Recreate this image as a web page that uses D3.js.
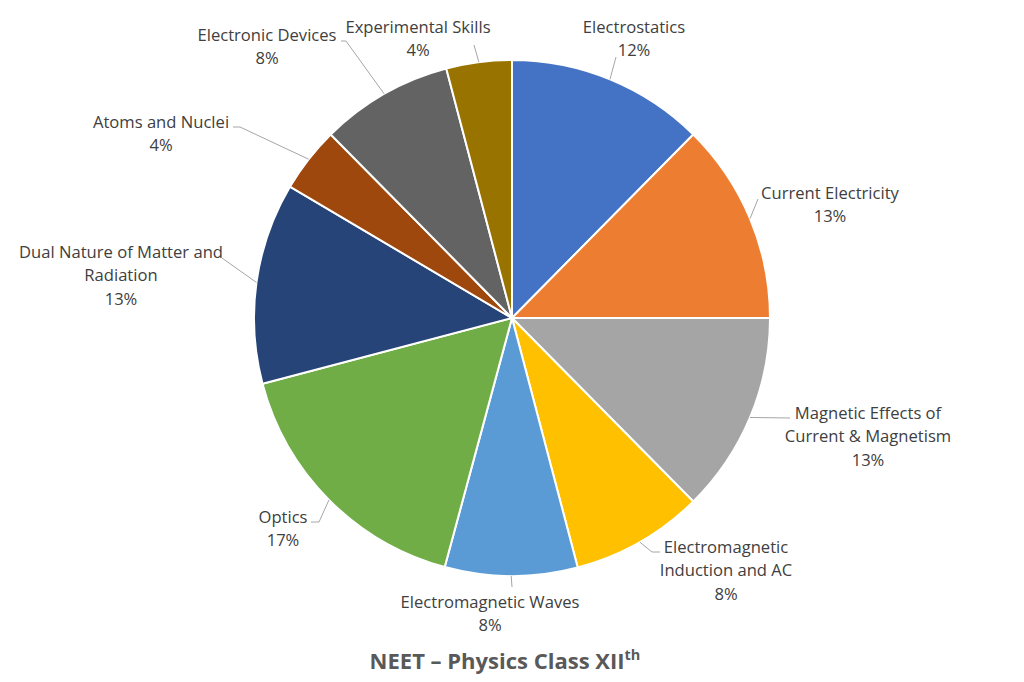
<!DOCTYPE html>
<html>
<head>
<meta charset="utf-8">
<script src="https://cdn.jsdelivr.net/npm/d3@7/dist/d3.min.js"></script>
<style>
  html, body { margin: 0; padding: 0; background: #ffffff; }
  svg { display: block; }
</style>
</head>
<body>
<svg id="chart" width="1024" height="682"></svg>
<script>
// ---- data ----
const categories = [
  "Electrostatics",
  "Current Electricity",
  "Magnetic Effects of Current & Magnetism",
  "Electromagnetic Induction and AC",
  "Electromagnetic Waves",
  "Optics",
  "Dual Nature of Matter and Radiation",
  "Atoms and Nuclei",
  "Electronic Devices",
  "Experimental Skills"
];
const values = [12.4, 12.6, 12.6, 8.3, 8.3, 16.7, 12.6, 4.1, 8.3, 4.1];
const labelLines = [
  ["Electrostatics"],
  ["Current Electricity"],
  ["Magnetic Effects of", "Current & Magnetism"],
  ["Electromagnetic", "Induction and AC"],
  ["Electromagnetic Waves"],
  ["Optics"],
  ["Dual Nature of Matter and", "Radiation"],
  ["Atoms and Nuclei"],
  ["Electronic Devices"],
  ["Experimental Skills"]
];
const colors = ["#4472C4", "#ED7D31", "#A5A5A5", "#FFC000", "#5B9BD5",
                "#70AD47", "#264478", "#9E480E", "#636363", "#997300"];
const titleMain = "NEET – Physics Class XII";
const titleSup = "th";

// ---- layout (label placement) ----
const cx = 512, cy = 318, R = 258;
const lineH = 23.5;
const labelLayout = [
  { x: 634, y: 27,  leader: [[616, 57]] },
  { x: 830, y: 193, leader: [[758, 199]] },
  { x: 868, y: 413, leader: [[790, 418]] },
  { x: 726, y: 547, leader: [[652, 552], [660, 552]] },
  { x: 490, y: 602, leader: [[512, 587]] },
  { x: 283, y: 517, leader: [[319, 522], [311, 522]] },
  { x: 121, y: 252, leader: [[222, 258]] },
  { x: 161, y: 122, leader: [[240, 127], [233, 127]] },
  { x: 267, y: 35,  leader: [[346, 41], [341, 41]] },
  { x: 418, y: 27,  leader: [[474, 45]] }
];

const svg = d3.select("#chart");
const g = svg.append("g").attr("transform", `translate(${cx},${cy})`);

const pie = d3.pie().value(d => d).sort(null);
const arcs = pie(values);
const arc = d3.arc().innerRadius(0).outerRadius(R);

g.selectAll("path.slice")
  .data(arcs)
  .join("path")
  .attr("class", "slice")
  .attr("d", arc)
  .attr("fill", (d, i) => colors[i])
  .attr("stroke", "#ffffff")
  .attr("stroke-width", 2)
  .attr("stroke-linejoin", "round");

// leader lines
const total = d3.sum(values);
arcs.forEach((a, i) => {
  const mid = (a.startAngle + a.endAngle) / 2;
  const ex = cx + R * Math.sin(mid);
  const ey = cy - R * Math.cos(mid);
  const pts = [[ex, ey]].concat(labelLayout[i].leader);
  svg.append("path")
    .attr("d", d3.line()(pts))
    .attr("fill", "none")
    .attr("stroke", "#A6A6A6")
    .attr("stroke-width", 1);
});

// labels
const fontFam = "'Open Sans', Lato, sans-serif";
arcs.forEach((a, i) => {
  const L = labelLayout[i];
  const lines = labelLines[i].concat([Math.round(values[i] / total * 100) + "%"]);
  const t = svg.append("text")
    .attr("text-anchor", "middle")
    .attr("font-family", fontFam)
    .attr("font-size", 16.6)
    .attr("fill", "#404040");
  lines.forEach((s, k) => {
    t.append("tspan")
      .attr("x", L.x)
      .attr("y", L.y + k * lineH)
      .attr("dy", "0.35em")
      .text(s);
  });
});

// title
const title = svg.append("text")
  .attr("x", 505)
  .attr("y", 661)
  .attr("dy", "0.36em")
  .attr("text-anchor", "middle")
  .attr("font-family", fontFam)
  .attr("font-weight", "bold")
  .attr("font-size", 22)
  .attr("fill", "#595959");
title.append("tspan").text(titleMain);
title.append("tspan").attr("font-size", 14.5).attr("dy", "-0.6em").text(titleSup);
</script>
</body>
</html>
